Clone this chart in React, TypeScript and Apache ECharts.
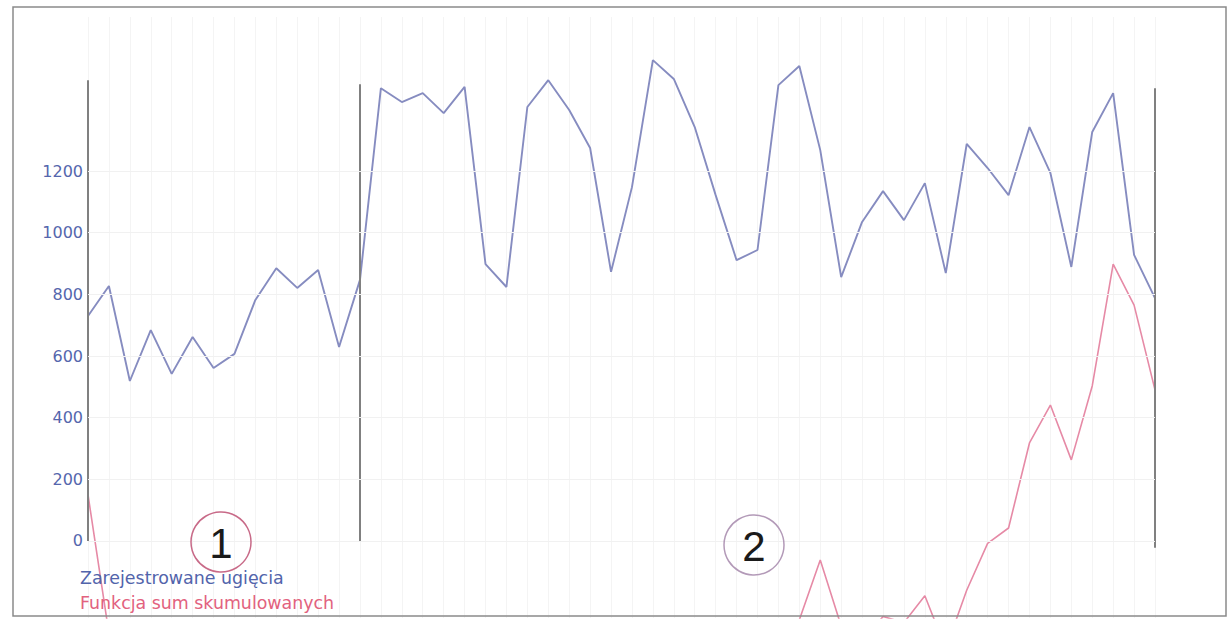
import React, { useEffect, useRef } from "react";
import * as echarts from "echarts";

// 52 consecutive measurements
const categories: string[] = Array.from({ length: 52 }, (_, i) => String(i + 1));

// Zarejestrowane ugięcia (registered deflections)
const deflections: number[] = [
  730, 827, 519, 684, 542, 662, 561, 607, 782, 885, 821, 879, 629, 847,
  1469, 1424, 1453, 1388, 1473, 898, 824, 1408, 1495, 1398, 1275, 873,
  1148, 1560, 1499, 1343, 1122, 911, 944, 1479, 1541, 1268, 856, 1035,
  1135, 1041, 1161, 869, 1288, 1210, 1122, 1343, 1194, 889, 1327, 1453,
  928, 788,
];

// Funkcja sum skumulowanych (cumulative sum function) – mostly below the visible frame
const cusum: number[] = [
  150, -300, -560, -700, -880, -940, -1080, -1160, -1160, -1100, -1080, -1020,
  -1190, -1160, -1000, -900, -800, -720, -600, -780, -980, -900, -780, -700,
  -680, -860, -830, -600, -450, -420, -470, -640, -780, -560, -256, -62,
  -276, -330, -245, -265, -178, -350, -160, -8, 42, 318, 441, 263, 503, 898,
  765, 490,
];

const yTickLabels: number[] = [0, 200, 400, 600, 800, 1000, 1200];

// section dividers (category index, top value, bottom value)
const dividerIdx: number[] = [0, 13, 51];
const dividerTop: number[] = [1495, 1482, 1469];
const dividerBottom: number[] = [0, 0, -22];

const legendNames: string[] = ["Zarejestrowane ugięcia", "Funkcja sum skumulowanych"];
const sectionLabels: string[] = ["1", "2"];

export default function App() {
  const ref = useRef<HTMLDivElement>(null);

  useEffect(() => {
    if (!ref.current) return;
    const chart = echarts.init(ref.current, undefined, { renderer: "svg" });
    const font = "'DejaVu Sans', Verdana, sans-serif";
    chart.setOption({
      animation: false,
      backgroundColor: "#ffffff",
      grid: { left: 88, right: 75, top: 17, bottom: 1, containLabel: false },
      xAxis: {
        type: "category",
        data: categories,
        boundaryGap: false,
        axisLine: { show: false },
        axisTick: { show: false },
        axisLabel: { show: false },
        splitLine: { show: true, lineStyle: { color: "#f4f4f4", width: 1 } },
      },
      yAxis: {
        type: "value",
        min: -250,
        max: 1700,
        interval: 50,
        axisLine: { show: false },
        axisTick: { show: false },
        splitLine: { show: false },
        axisLabel: {
          margin: 5,
          color: "#5566ad",
          fontSize: 16,
          fontFamily: font,
          formatter: (v: number) => (yTickLabels.indexOf(v) >= 0 ? String(v) : ""),
        },
      },
      series: [
        {
          name: legendNames[0],
          type: "line",
          data: deflections,
          symbol: "none",
          lineStyle: { color: "#868cc0", width: 1.9 },
          z: 3,
          markLine: {
            silent: true,
            symbol: ["none", "none"],
            label: { show: false },
            lineStyle: { color: "#808080", width: 2, type: "solid" },
            data: dividerIdx.map((d, k) => [
              { coord: [categories[d], dividerTop[k]] },
              { coord: [categories[d], dividerBottom[k]] },
            ]),
          },
        },
        {
          name: legendNames[1],
          type: "line",
          data: cusum,
          symbol: "none",
          clip: true,
          lineStyle: { color: "#e68aa6", width: 1.6 },
          z: 2,
          markLine: {
            silent: true,
            symbol: ["none", "none"],
            label: { show: false },
            lineStyle: { color: "#f1f1f1", width: 1, type: "solid" },
            data: yTickLabels.map((v) => ({ yAxis: v })),
          },
        },
      ],
      graphic: [
        {
          type: "rect",
          shape: { x: 13, y: 7, width: 1213, height: 609 },
          style: { fill: "none", stroke: "#8a8a8a", lineWidth: 1.5 },
          silent: true,
          z: 10,
        },
        {
          type: "text",
          left: 80,
          top: 569,
          style: { text: legendNames[0], fill: "#5264ab", fontSize: 17.4, fontFamily: font },
          z: 10,
        },
        {
          type: "text",
          left: 80,
          top: 594,
          style: { text: legendNames[1], fill: "#e2627e", fontSize: 17.4, fontFamily: font },
          z: 10,
        },
        {
          type: "circle",
          shape: { cx: 221, cy: 542, r: 30 },
          style: { fill: "rgba(255,255,255,0)", stroke: "#c86a88", lineWidth: 1.5 },
          z: 10,
        },
        {
          type: "text",
          x: 221,
          y: 543,
          style: {
            text: sectionLabels[0],
            fill: "#1a1a1a",
            fontSize: 42,
            fontFamily: "'Liberation Sans', Arial, sans-serif",
            align: "center",
            verticalAlign: "middle",
          },
          z: 11,
        },
        {
          type: "circle",
          shape: { cx: 754, cy: 545, r: 30 },
          style: { fill: "rgba(255,255,255,0)", stroke: "#b39ab8", lineWidth: 1.5 },
          z: 10,
        },
        {
          type: "text",
          x: 754,
          y: 546,
          style: {
            text: sectionLabels[1],
            fill: "#1a1a1a",
            fontSize: 42,
            fontFamily: "'Liberation Sans', Arial, sans-serif",
            align: "center",
            verticalAlign: "middle",
          },
          z: 11,
        },
      ],
    });
    return () => chart.dispose();
  }, []);

  return (
    <div
      ref={ref}
      style={{ position: "absolute", left: 0, top: 0, width: 1230, height: 619 }}
    />
  );
}
